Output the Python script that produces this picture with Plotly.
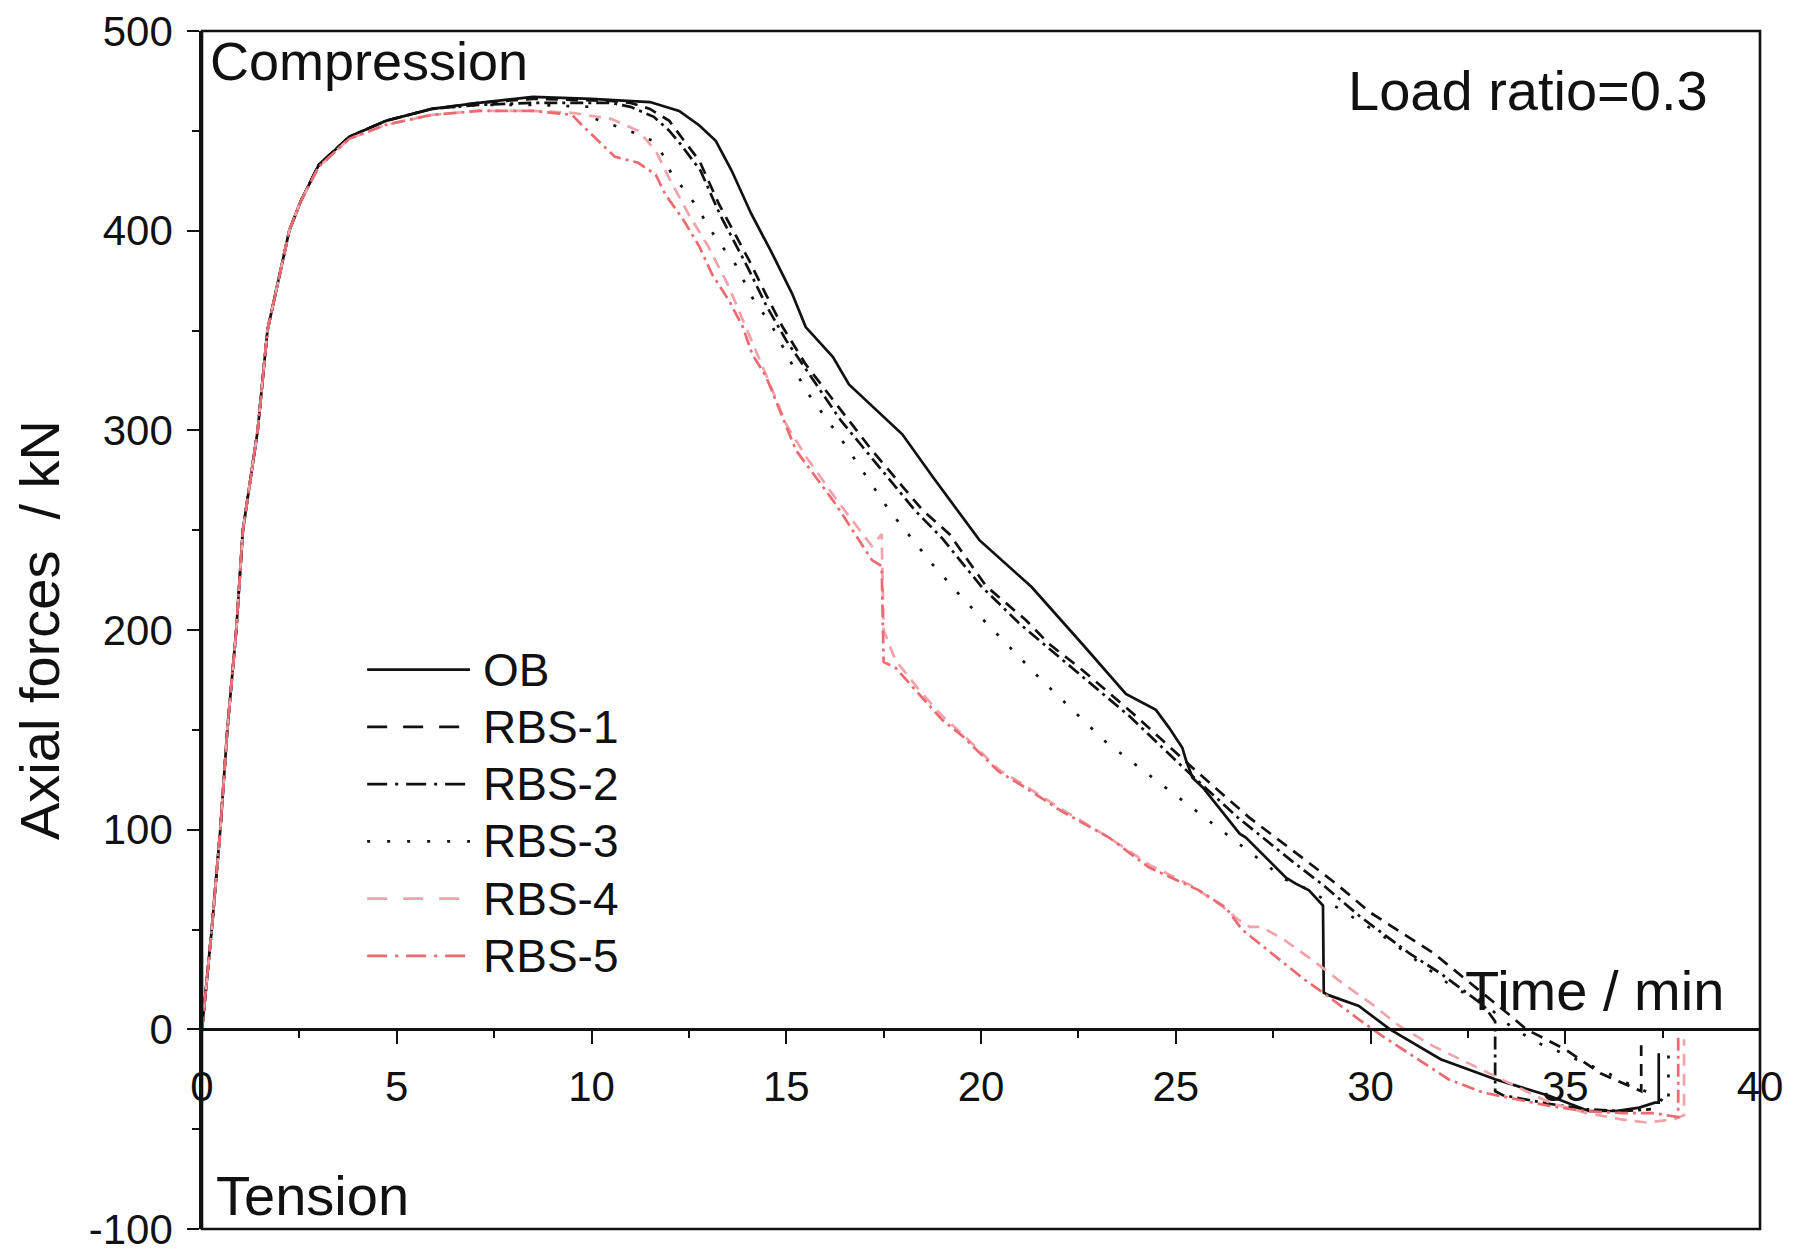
import plotly.graph_objects as go

# ---------------- data ----------------
ob_t = [0, 0.25, 0.47, 0.65, 0.88, 1.05, 1.43, 1.68, 2.24, 2.54, 3.0, 3.78, 4.72, 5.9, 7.1, 8.5,
        10.0, 11.0, 11.5, 12.25, 12.77, 13.19, 13.6, 14.1, 14.64, 15.15, 15.5, 16.2, 16.61, 17.98,
        18.75, 19.96, 21.3, 22.6, 23.72, 24.49, 24.83, 25.17, 25.26, 25.43, 25.7, 26.64, 26.8,
        27.83, 28.08, 28.42, 28.78, 28.8, 28.94, 29.7, 30.5, 31.8, 33.2, 34.6, 35.6, 36.3, 36.9,
        37.3, 37.4, 37.4]
ob_f = [0, 50, 100, 150, 200, 250, 300, 350, 400, 415, 433, 447, 455, 461, 464, 467,
        466, 465, 464.4, 460, 452.7, 445, 430, 408.5, 388.5, 368.5, 351.7, 336.7, 323, 298,
        277, 245, 221.5, 193, 168, 160, 151, 141, 135, 126, 121, 98, 96,
        76, 73, 69.6, 62, 18.4, 17, 11.7, 0, -15, -25, -33.4, -40.9, -40.9, -39.2,
        -36.7, -36.7, -12]

rbs1_t = [0, 0.25, 0.47, 0.65, 0.88, 1.05, 1.43, 1.68, 2.24, 2.54, 3.0, 3.78, 4.72, 5.9, 7.1, 8.5,
          10.5, 11.0, 11.5, 12.0, 12.3, 12.77, 13.28, 14.05, 14.48, 14.9, 15.5, 16.6, 17.2, 18.5,
          19.19, 20.13, 21.15, 21.75, 22.6, 23.2, 23.97, 25.43, 26.89, 28.34, 29.11, 30.0, 31.6,
          33.6, 34.0, 35.0, 35.9, 36.6, 36.95, 36.95]
rbs1_f = [0, 50, 100, 150, 200, 250, 300, 350, 400, 415, 433, 447, 455, 461, 464, 466,
          465, 464, 461, 455, 447, 435, 413, 385, 368, 352, 333, 305, 290, 260,
          248, 222, 205, 193, 180, 170, 157, 131, 106, 84.6, 73, 58.4, 38.4,
          6.7, 0, -10, -22, -28, -31, -8]

rbs2_t = [0, 0.25, 0.47, 0.65, 0.88, 1.05, 1.43, 1.68, 2.24, 2.54, 3.0, 3.78, 4.72, 5.9, 7.1, 8.5,
          10.5, 11.0, 11.6, 12.0, 12.3, 12.8, 13.3, 14.0, 14.5, 15.0, 16.4, 18.3, 19.0, 20.0,
          21.0, 22.4, 23.8, 25.2, 26.6, 28.0, 28.8, 29.7, 31.0, 31.8, 32.9, 33.2, 33.2, 33.4,
          34.5, 35.5, 36.5, 37.2]
rbs2_f = [0, 50, 100, 150, 200, 250, 300, 350, 400, 415, 433, 447, 455, 461, 463, 464,
          464, 462, 457, 450, 443, 430, 408, 382, 362, 345, 305, 260, 246, 222,
          203, 180, 157, 131, 106, 84, 72, 57, 38, 28, 12, 4, -31, -33,
          -37, -40, -41, -40]

rbs3_t = [0, 0.25, 0.47, 0.65, 0.88, 1.05, 1.43, 1.68, 2.24, 2.54, 3.0, 3.78, 4.72, 5.9, 7.1, 8.5,
          10.0, 10.1, 11.1, 11.57, 11.87, 12.08, 12.42, 12.77, 13.0, 13.32, 13.7, 14.22, 14.56,
          15.5, 16.36, 17.64, 18.75, 19.52, 21.5, 23.2, 25.08, 26.89, 27.82, 28.4, 30.3, 32.2,
          32.8, 33.5, 34.2, 34.7, 35.5, 36.1, 36.7, 37.3, 37.65, 37.65]
rbs3_f = [0, 50, 100, 150, 200, 250, 300, 350, 400, 415, 433, 447, 455, 461, 463, 463,
          462, 456, 449, 445, 437, 427, 420, 410, 402, 393, 383, 363, 355,
          320, 297, 260, 233, 216, 176, 144, 116, 89, 75, 70, 47, 20,
          15, 3, -6, -10, -17, -22, -28, -33, -38, -8]

rbs4_t = [0, 0.25, 0.47, 0.65, 0.88, 1.05, 1.43, 1.68, 2.24, 2.54, 3.0, 3.78, 4.72, 5.9, 7.1, 8.5,
          9.5, 10.5, 11.2, 11.65, 12.0, 12.5, 13.0, 13.5, 14.0, 14.5, 15.0, 15.5, 16.3, 17.2,
          17.45, 17.5, 17.8, 18.41, 19.0, 19.52, 20.46, 21.06, 22.09, 23.29, 24.36, 25.4, 26.17,
          26.6, 26.9, 27.2, 27.77, 28.6, 29.26, 30.1, 30.74, 31.6, 32.66, 33.7, 34.6, 35.5, 36.4,
          37.1, 37.8, 38.05, 38.05]
rbs4_f = [0, 50, 100, 150, 200, 250, 300, 350, 400, 415, 432, 446, 453, 458, 460, 460,
          459, 456, 450, 440, 426, 408, 392, 373, 350, 327, 303, 287, 265, 242,
          248, 200, 185, 170, 157, 148, 130, 123, 110, 96, 82, 72, 62,
          55, 51.3, 51.3, 45, 33.4, 23.4, 11.7, 1.7, -8.3, -18.4, -28.4, -36.7, -41.7, -45,
          -46.7, -45, -43, -5]

rbs5_t = [0, 0.25, 0.47, 0.65, 0.88, 1.05, 1.43, 1.68, 2.24, 2.54, 3.0, 3.78, 4.72, 5.9, 7.1, 8.5,
          9.5, 9.8, 10.6, 11.2, 11.65, 11.9, 12.34, 12.77, 13.1, 13.53, 13.88, 14.13, 14.48, 15.25,
          16.27, 17.2, 17.45, 17.5, 17.81, 18.41, 19.0, 19.52, 20.46, 21.06, 22.09, 23.29, 24.32,
          25.6, 26.28, 26.7, 27.55, 28.3, 28.9, 29.7, 30.3, 31.2, 32.0, 32.9, 33.7, 34.6, 35.5,
          36.5, 37.3, 37.9, 37.9]
rbs5_f = [0, 50, 100, 150, 200, 250, 300, 350, 400, 415, 432, 446, 453, 458, 460, 460,
          458, 452, 437, 434, 428, 418, 406, 392, 378, 365, 352, 338, 327, 290,
          263, 235, 232, 184, 181, 168, 155, 147, 129, 122, 109, 96, 81,
          69.6, 61, 50, 36.7, 25, 16.7, 5, -3.3, -15, -25, -31.7, -35, -38.4, -41,
          -42, -42, -44, -3]

series_names = ["OB", "RBS-1", "RBS-2", "RBS-3", "RBS-4", "RBS-5"]
series_t = [ob_t, rbs1_t, rbs2_t, rbs3_t, rbs4_t, rbs5_t]
series_f = [ob_f, rbs1_f, rbs2_f, rbs3_f, rbs4_f, rbs5_f]

x_ticks = [0, 5, 10, 15, 20, 25, 30, 35, 40]
y_ticks = [-100, 0, 100, 200, 300, 400, 500]

# ---------------- styles ----------------
colors = ["#111111", "#111111", "#111111", "#111111", "#f2a2aa", "#ec6a72"]
dashes = ["solid", "12px,8px", "13px,5px,3px,5px", "3px,16px", "12px,8px", "13px,5px,3px,5px"]
legend_dashes = ["solid", "20px,16px", "20px,8px,3px,8px", "3px,17px", "20px,16px", "20px,8px,3px,8px"]
FONT = "Liberation Sans, Arial, sans-serif"

fig = go.Figure()
for name, t, f, c, d in zip(series_names, series_t, series_f, colors, dashes):
    fig.add_trace(go.Scatter(x=t, y=f, mode="lines", name=name,
                             line=dict(color=c, width=2.7, dash=d), showlegend=False))

fig.update_layout(
    width=1798, height=1250,
    margin=dict(l=194, r=46, t=23, b=29, autoexpand=False),
    paper_bgcolor="white", plot_bgcolor="white",
    font=dict(family=FONT, color="#111111"),
    xaxis=dict(range=[0, 40], tickvals=x_ticks, ticktext=[str(v) for v in x_ticks],
               anchor="free", position=1/6, showline=True, linecolor="#111111", linewidth=2.6,
               ticks="outside", ticklen=13, tickwidth=2.4, tickcolor="#111111", automargin=False,
               ticklabelstandoff=6, ticklabeloverflow="allow", tickfont=dict(size=42, family=FONT),
               minor=dict(dtick=2.5, ticks="outside", ticklen=7, tickwidth=2.2, tickcolor="#111111"),
               showgrid=False, zeroline=False),
    yaxis=dict(range=[-100, 500], tickvals=y_ticks, ticktext=[str(v) for v in y_ticks],
               showline=True, linecolor="#111111", linewidth=2.6, automargin=False,
               ticks="outside", ticklen=12, tickwidth=2.4, tickcolor="#111111",
               ticklabelstandoff=6, ticklabeloverflow="allow", tickfont=dict(size=42, family=FONT),
               minor=dict(dtick=50, ticks="outside", ticklen=7, tickwidth=2.2, tickcolor="#111111"),
               title=dict(text="Axial forces  / kN", font=dict(size=56, family=FONT), standoff=16),
               showgrid=False, zeroline=False),
)

# frame
fig.add_shape(type="rect", xref="paper", yref="paper", x0=0, x1=1, y0=0, y1=1,
              line=dict(color="#111111", width=2.6), layer="above")

# text annotations
def note(text, x, y, xanchor, size):
    fig.add_annotation(text=text, xref="paper", yref="paper", x=x, y=y, xanchor=xanchor,
                       yanchor="middle", showarrow=False, font=dict(size=size, family=FONT, color="#111111"))

note("Compression", 0.004, 0.975, "left", 54)
note("Load ratio=0.3", 0.968, 0.95, "right", 56)
note("Time / min", 0.978, 0.199, "right", 56)
note("Tension", 0.008, 0.028, "left", 56)

# manual legend
leg_y0 = 0.467
leg_dy = 0.0478
for i, (name, c, d) in enumerate(zip(series_names, colors, legend_dashes)):
    yy = leg_y0 - i * leg_dy
    fig.add_shape(type="line", xref="paper", yref="paper", x0=0.106, x1=0.172, y0=yy, y1=yy,
                  line=dict(color=c, width=2.8, dash=d))
    fig.add_annotation(text=name, xref="paper", yref="paper", x=0.179, y=yy, xanchor="left",
                       yanchor="middle", showarrow=False, font=dict(size=46, family=FONT, color="#111111"))

fig.write_html("out.html")
